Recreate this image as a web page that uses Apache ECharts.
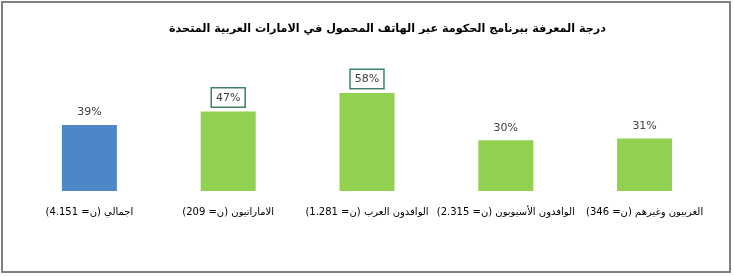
<!DOCTYPE html>
<html>
<head>
<meta charset="utf-8">
<script src="https://cdn.jsdelivr.net/npm/echarts@6/dist/echarts.min.js"></script>
<style>
html,body{margin:0;padding:0;background:#fff;}
#chart{width:734px;height:276px;}
</style>
</head>
<body>
<div id="chart"></div>
<script>
const titleText = 'درجة المعرفة ببرنامج الحكومة عبر الهاتف المحمول في الامارات العربية المتحدة';
const categories = [
  'اجمالي (ن= 4.151)',
  'الاماراتيون (ن= 209)',
  'الوافدون العرب (ن= 1.281)',
  'الوافدون الأسيوبون (ن= 2.315)',
  'الغربيون وغيرهم (ن= 346)'
];
const values = [39, 47, 58, 30, 31];

const BLUE = '#4F86C8';
const GREEN = '#92D050';
const FONT = 'DejaVu Sans';

const chart = echarts.init(document.getElementById('chart'), null, {renderer: 'canvas'});

const plainLabel = {
  show: true, position: 'top', distance: 7,
  formatter: '{c}%', color: '#404040', fontSize: 11, fontFamily: FONT
};
const boxedLabel = {
  show: true, position: 'top', distance: 5,
  formatter: '{c}%', color: '#404040', fontSize: 11, fontFamily: FONT,
  borderColor: '#3E7F6E', borderWidth: 1.5, padding: [4, 4, 3, 4], backgroundColor: '#fff'
};

const data = values.map((v, i) => ({
  value: v,
  itemStyle: {color: i === 0 ? BLUE : GREEN},
  label: (i === 1 || i === 2) ? boxedLabel : plainLabel
}));

chart.setOption({
  animation: false,
  backgroundColor: '#fff',
  title: {
    text: titleText,
    left: 164, top: 19,
    textStyle: {fontSize: 11.2, fontWeight: 'bold', color: '#000', fontFamily: FONT}
  },
  graphic: [{
    type: 'rect',
    shape: {x: 2, y: 2, width: 728, height: 270},
    style: {fill: 'none', stroke: '#808080', lineWidth: 2},
    silent: true, z: 100
  }],
  grid: {left: 20, right: 20, top: 22, bottom: 85, containLabel: false},
  xAxis: {
    type: 'category',
    data: categories,
    axisLine: {show: false},
    axisTick: {show: false},
    axisLabel: {
      interval: 0, margin: 16, color: '#000', fontSize: 10, fontFamily: FONT,
      formatter: s => '\u202B' + s + '\u202C'
    }
  },
  yAxis: {
    type: 'value', min: 0, max: 100, show: false,
    splitLine: {show: false}
  },
  series: [{
    type: 'bar',
    barWidth: 55,
    data: data
  }]
});
</script>
</body>
</html>
